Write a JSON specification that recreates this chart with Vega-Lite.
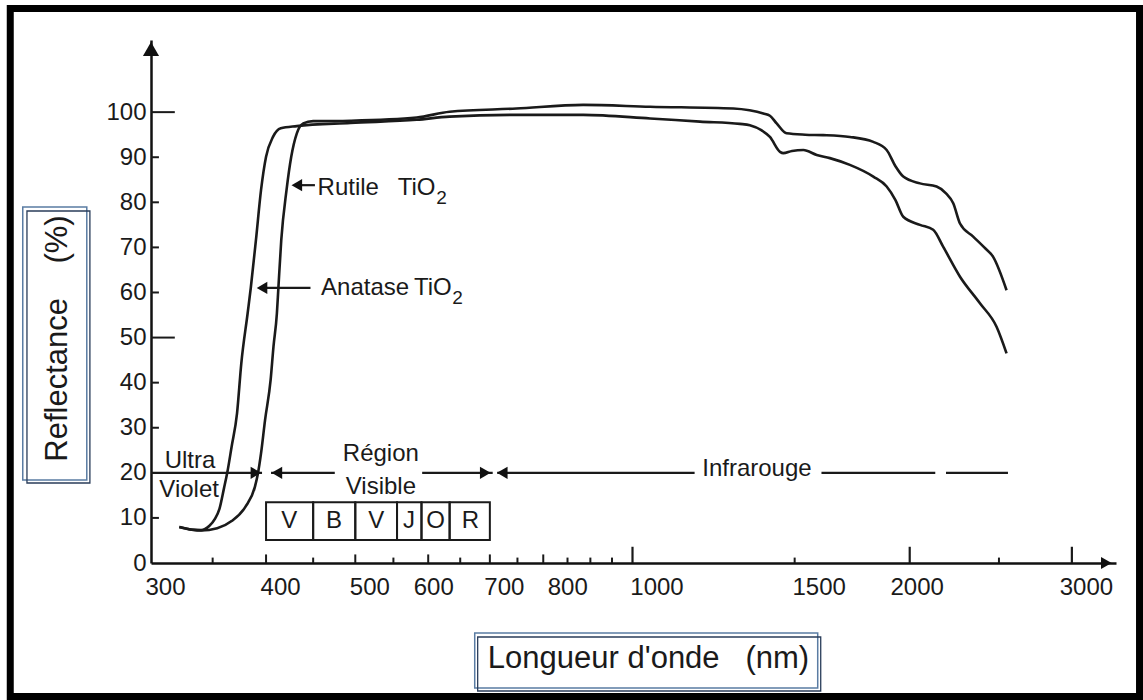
{
  "$schema": "https://vega.github.io/schema/vega-lite/v6.json",
  "width": 965,
  "height": 523,
  "autosize": {"type": "none"},
  "padding": {"left": 151, "top": 40, "right": 27, "bottom": 137},
  "background": "white",
  "config": {
    "view": {"stroke": null},
    "font": "Liberation Sans",
    "text": {"font": "Liberation Sans", "color": "#1a1a1a"}
  },
  "layer": [
    {
      "data": {"values": [
        {"wl": 322, "r": 8.0, "s": "Anatase"},
        {"wl": 332, "r": 7.4, "s": "Anatase"},
        {"wl": 340, "r": 7.3, "s": "Anatase"},
        {"wl": 347, "r": 8.2, "s": "Anatase"},
        {"wl": 352, "r": 9.8, "s": "Anatase"},
        {"wl": 356, "r": 12.0, "s": "Anatase"},
        {"wl": 360, "r": 16.5, "s": "Anatase"},
        {"wl": 363, "r": 20.0, "s": "Anatase"},
        {"wl": 367, "r": 25.8, "s": "Anatase"},
        {"wl": 372, "r": 33.2, "s": "Anatase"},
        {"wl": 376, "r": 44.3, "s": "Anatase"},
        {"wl": 382, "r": 55.4, "s": "Anatase"},
        {"wl": 385, "r": 61.0, "s": "Anatase"},
        {"wl": 390, "r": 71.6, "s": "Anatase"},
        {"wl": 395, "r": 82.7, "s": "Anatase"},
        {"wl": 400, "r": 90.1, "s": "Anatase"},
        {"wl": 407, "r": 94.5, "s": "Anatase"},
        {"wl": 415, "r": 96.4, "s": "Anatase"},
        {"wl": 432, "r": 96.9, "s": "Anatase"},
        {"wl": 494, "r": 97.6, "s": "Anatase"},
        {"wl": 583, "r": 98.3, "s": "Anatase"},
        {"wl": 633, "r": 99.0, "s": "Anatase"},
        {"wl": 748, "r": 99.4, "s": "Anatase"},
        {"wl": 884, "r": 99.4, "s": "Anatase"},
        {"wl": 1045, "r": 98.6, "s": "Anatase"},
        {"wl": 1184, "r": 97.9, "s": "Anatase"},
        {"wl": 1308, "r": 97.4, "s": "Anatase"},
        {"wl": 1341, "r": 97.1, "s": "Anatase"},
        {"wl": 1380, "r": 96.0, "s": "Anatase"},
        {"wl": 1410, "r": 94.5, "s": "Anatase"},
        {"wl": 1446, "r": 91.2, "s": "Anatase"},
        {"wl": 1458, "r": 90.9, "s": "Anatase"},
        {"wl": 1490, "r": 91.4, "s": "Anatase"},
        {"wl": 1533, "r": 91.6, "s": "Anatase"},
        {"wl": 1585, "r": 90.5, "s": "Anatase"},
        {"wl": 1638, "r": 89.8, "s": "Anatase"},
        {"wl": 1722, "r": 88.3, "s": "Anatase"},
        {"wl": 1826, "r": 85.7, "s": "Anatase"},
        {"wl": 1888, "r": 83.5, "s": "Anatase"},
        {"wl": 1930, "r": 80.5, "s": "Anatase"},
        {"wl": 1968, "r": 76.8, "s": "Anatase"},
        {"wl": 2052, "r": 75.0, "s": "Anatase"},
        {"wl": 2121, "r": 73.9, "s": "Anatase"},
        {"wl": 2175, "r": 70.1, "s": "Anatase"},
        {"wl": 2268, "r": 63.5, "s": "Anatase"},
        {"wl": 2384, "r": 57.6, "s": "Anatase"},
        {"wl": 2485, "r": 52.4, "s": "Anatase"},
        {"wl": 2548, "r": 46.5, "s": "Anatase"},
        {"wl": 322, "r": 8.0, "s": "Rutile"},
        {"wl": 340, "r": 7.2, "s": "Rutile"},
        {"wl": 354, "r": 7.7, "s": "Rutile"},
        {"wl": 367, "r": 9.3, "s": "Rutile"},
        {"wl": 380, "r": 12.5, "s": "Rutile"},
        {"wl": 389, "r": 16.9, "s": "Rutile"},
        {"wl": 392, "r": 19.9, "s": "Rutile"},
        {"wl": 395, "r": 24.3, "s": "Rutile"},
        {"wl": 399, "r": 31.7, "s": "Rutile"},
        {"wl": 404.6, "r": 40.6, "s": "Rutile"},
        {"wl": 407.5, "r": 48.0, "s": "Rutile"},
        {"wl": 411, "r": 55.4, "s": "Rutile"},
        {"wl": 412.5, "r": 60.9, "s": "Rutile"},
        {"wl": 415.5, "r": 71.6, "s": "Rutile"},
        {"wl": 421, "r": 82.7, "s": "Rutile"},
        {"wl": 426, "r": 90.1, "s": "Rutile"},
        {"wl": 432, "r": 95.3, "s": "Rutile"},
        {"wl": 439, "r": 97.5, "s": "Rutile"},
        {"wl": 450, "r": 98.0, "s": "Rutile"},
        {"wl": 494, "r": 98.1, "s": "Rutile"},
        {"wl": 583, "r": 98.8, "s": "Rutile"},
        {"wl": 633, "r": 100.1, "s": "Rutile"},
        {"wl": 748, "r": 100.8, "s": "Rutile"},
        {"wl": 884, "r": 101.6, "s": "Rutile"},
        {"wl": 1045, "r": 101.2, "s": "Rutile"},
        {"wl": 1287, "r": 100.8, "s": "Rutile"},
        {"wl": 1340, "r": 100.4, "s": "Rutile"},
        {"wl": 1387, "r": 99.7, "s": "Rutile"},
        {"wl": 1410, "r": 99.2, "s": "Rutile"},
        {"wl": 1434, "r": 97.5, "s": "Rutile"},
        {"wl": 1470, "r": 95.3, "s": "Rutile"},
        {"wl": 1540, "r": 95.0, "s": "Rutile"},
        {"wl": 1611, "r": 94.9, "s": "Rutile"},
        {"wl": 1722, "r": 94.5, "s": "Rutile"},
        {"wl": 1826, "r": 93.4, "s": "Rutile"},
        {"wl": 1888, "r": 91.6, "s": "Rutile"},
        {"wl": 1930, "r": 88.0, "s": "Rutile"},
        {"wl": 1968, "r": 85.7, "s": "Rutile"},
        {"wl": 2052, "r": 84.2, "s": "Rutile"},
        {"wl": 2139, "r": 83.5, "s": "Rutile"},
        {"wl": 2190, "r": 82.0, "s": "Rutile"},
        {"wl": 2230, "r": 79.8, "s": "Rutile"},
        {"wl": 2268, "r": 75.3, "s": "Rutile"},
        {"wl": 2344, "r": 72.4, "s": "Rutile"},
        {"wl": 2410, "r": 70.0, "s": "Rutile"},
        {"wl": 2464, "r": 67.9, "s": "Rutile"},
        {"wl": 2548, "r": 60.5, "s": "Rutile"}
      ]},
      "mark": {"type": "line", "interpolate": "monotone", "strokeWidth": 2.6, "color": "#1a1a1a"},
      "encoding": {
        "x": {
          "field": "wl", "type": "quantitative",
          "scale": {"type": "log", "domain": [300, 3350], "nice": false},
          "axis": {
            "title": "Longueur d'onde\u00a0\u00a0\u00a0(nm)",
            "values": [300, 400, 500, 600, 700, 800, 1000, 1500, 2000, 3000],
            "format": "d",
            "ticks": false, "tickSize": 0, "grid": false,
            "domainColor": "#111111", "domainWidth": 2.5,
            "labelFont": "Liberation Sans", "labelFontSize": 24, "labelColor": "#1a1a1a",
            "labelPadding": 12,
            "labelOffset": {"condition": [
              {"test": "datum.value == 600", "value": 5},
              {"test": "datum.value == 2000", "value": 7},
              {"test": "datum.value >= 800 && datum.value <= 1500", "value": 24}
            ], "value": 14},
            "labelFlush": false, "labelOverlap": false,
            "titleFont": "Liberation Sans", "titleFontSize": 31, "titleFontWeight": "normal", "titleColor": "#1a1a1a",
            "titleX": 497, "titleY": 95, "titleBaseline": "middle", "titleAlign": "center"
          }
        },
        "y": {
          "field": "r", "type": "quantitative",
          "scale": {"domain": [0, 116], "nice": false, "zero": false},
          "axis": {
            "title": "Reflectance\u00a0\u00a0\u00a0\u00a0(%)",
            "values": [0, 10, 20, 30, 40, 50, 60, 70, 80, 90, 100],
            "ticks": false, "tickSize": 0, "grid": false,
            "domainColor": "#111111", "domainWidth": 2.5,
            "labelFont": "Liberation Sans", "labelFontSize": 24, "labelColor": "#1a1a1a",
            "labelPadding": 5,
            "titleFont": "Liberation Sans", "titleFontSize": 31, "titleFontWeight": "normal", "titleColor": "#1a1a1a",
            "titleX": -94, "titleY": 298, "titleBaseline": "middle", "titleAlign": "center", "titleAngle": -90
          }
        },
        "detail": {"field": "s", "type": "nominal"}
      }
    },
    {
      "data": {"values": [{}]},
      "mark": {"type": "rect", "fillOpacity": 0, "stroke": "#000000", "strokeWidth": 7},
      "encoding": {
        "x": {"datum": 211, "type": "quantitative", "scale": {"type": "log", "domain": [300, 3350], "nice": false}},
        "x2": {"datum": 3553},
        "y": {"datum": 123.0, "type": "quantitative", "scale": {"domain": [0, 116], "nice": false, "zero": false}},
        "y2": {"datum": -29.6}
      }
    },
    {
      "data": {"values": [{"box": "y"}]},
      "mark": {"type": "rect", "fillOpacity": 0, "stroke": "#5a7ca3", "strokeWidth": 1.5},
      "encoding": {
        "x": {"datum": 217.7, "type": "quantitative", "scale": {"type": "log", "domain": [300, 3350], "nice": false}},
        "x2": {"datum": 255.5},
        "y": {"datum": 78.95, "type": "quantitative", "scale": {"domain": [0, 116], "nice": false, "zero": false}},
        "y2": {"datum": 18.41}
      }
    },
    {
      "data": {"values": [{"box": "y"}]},
      "mark": {"type": "rect", "fillOpacity": 0, "stroke": "#2a3d5a", "strokeWidth": 1.3},
      "encoding": {
        "x": {"datum": 220, "type": "quantitative", "scale": {"type": "log", "domain": [300, 3350], "nice": false}},
        "x2": {"datum": 257.5},
        "y": {"datum": 78.07, "type": "quantitative", "scale": {"domain": [0, 116], "nice": false, "zero": false}},
        "y2": {"datum": 17.74}
      }
    },
    {
      "data": {"values": [{"box": "x"}]},
      "mark": {"type": "rect", "fillOpacity": 0, "stroke": "#5a7ca3", "strokeWidth": 1.5},
      "encoding": {
        "x": {"datum": 674, "type": "quantitative", "scale": {"type": "log", "domain": [300, 3350], "nice": false}},
        "x2": {"datum": 1589},
        "y": {"datum": -15.52, "type": "quantitative", "scale": {"domain": [0, 116], "nice": false, "zero": false}},
        "y2": {"datum": -27.72}
      }
    },
    {
      "data": {"values": [{"box": "x"}]},
      "mark": {"type": "rect", "fillOpacity": 0, "stroke": "#2a3d5a", "strokeWidth": 1.3},
      "encoding": {
        "x": {"datum": 679, "type": "quantitative", "scale": {"type": "log", "domain": [300, 3350], "nice": false}},
        "x2": {"datum": 1601},
        "y": {"datum": -16.41, "type": "quantitative", "scale": {"domain": [0, 116], "nice": false, "zero": false}},
        "y2": {"datum": -28.39}
      }
    },
    {
      "data": {"values": [{"wl": 350}, {"wl": 450}, {"wl": 550}, {"wl": 650}, {"wl": 750}, {"wl": 850}, {"wl": 900}, {"wl": 950}, {"wl": 1500}, {"wl": 2500}]},
      "mark": {"type": "rule", "strokeWidth": 2, "color": "#1a1a1a"},
      "encoding": {
        "x": {"field": "wl", "type": "quantitative", "scale": {"type": "log", "domain": [300, 3350], "nice": false}},
        "y": {"datum": 0, "type": "quantitative", "scale": {"domain": [0, 116], "nice": false, "zero": false}},
        "y2": {"datum": 1.2}
      }
    },
    {
      "data": {"values": [{"wl": 400}, {"wl": 500}, {"wl": 600}, {"wl": 700}, {"wl": 800}]},
      "mark": {"type": "rule", "strokeWidth": 2, "color": "#1a1a1a"},
      "encoding": {
        "x": {"field": "wl", "type": "quantitative", "scale": {"type": "log", "domain": [300, 3350], "nice": false}},
        "y": {"datum": 0, "type": "quantitative", "scale": {"domain": [0, 116], "nice": false, "zero": false}},
        "y2": {"datum": 1.9}
      }
    },
    {
      "data": {"values": [{"wl": 1000}, {"wl": 2000}, {"wl": 3000}]},
      "mark": {"type": "rule", "strokeWidth": 2.2, "color": "#1a1a1a"},
      "encoding": {
        "x": {"field": "wl", "type": "quantitative", "scale": {"type": "log", "domain": [300, 3350], "nice": false}},
        "y": {"datum": 0, "type": "quantitative", "scale": {"domain": [0, 116], "nice": false, "zero": false}},
        "y2": {"datum": 3.6}
      }
    },
    {
      "data": {"values": [{"r": 10}, {"r": 30}, {"r": 40}, {"r": 60}, {"r": 70}, {"r": 80}, {"r": 90}]},
      "mark": {"type": "rule", "strokeWidth": 2, "color": "#1a1a1a"},
      "encoding": {
        "y": {"field": "r", "type": "quantitative", "scale": {"domain": [0, 116], "nice": false, "zero": false}},
        "x": {"datum": 300, "type": "quantitative", "scale": {"type": "log", "domain": [300, 3350], "nice": false}},
        "x2": {"datum": 306}
      }
    },
    {
      "data": {"values": [{"r": 50}, {"r": 100}]},
      "mark": {"type": "rule", "strokeWidth": 2, "color": "#1a1a1a"},
      "encoding": {
        "y": {"field": "r", "type": "quantitative", "scale": {"domain": [0, 116], "nice": false, "zero": false}},
        "x": {"datum": 300, "type": "quantitative", "scale": {"type": "log", "domain": [300, 3350], "nice": false}},
        "x2": {"datum": 318.4}
      }
    },
    {
      "data": {"values": [
        {"wl": 300, "wl2": 396},
        {"wl": 405, "wl2": 475},
        {"wl": 591, "wl2": 705},
        {"wl": 713, "wl2": 1168},
        {"wl": 1604, "wl2": 2132},
        {"wl": 2190, "wl2": 2557}
      ]},
      "mark": {"type": "rule", "strokeWidth": 2.2, "color": "#1a1a1a"},
      "encoding": {
        "x": {"field": "wl", "type": "quantitative", "scale": {"type": "log", "domain": [300, 3350], "nice": false}},
        "x2": {"field": "wl2"},
        "y": {"datum": 20, "type": "quantitative", "scale": {"domain": [0, 116], "nice": false, "zero": false}}
      }
    },
    {
      "data": {"values": [
        {"wl": 432, "wl2": 452, "r": 83.8},
        {"wl": 396, "wl2": 447, "r": 61.0}
      ]},
      "mark": {"type": "rule", "strokeWidth": 2.2, "color": "#1a1a1a"},
      "encoding": {
        "x": {"field": "wl", "type": "quantitative", "scale": {"type": "log", "domain": [300, 3350], "nice": false}},
        "x2": {"field": "wl2"},
        "y": {"field": "r", "type": "quantitative", "scale": {"domain": [0, 116], "nice": false, "zero": false}}
      }
    },
    {
      "data": {"values": [{"wl": 390, "r": 20}, {"wl": 692, "r": 20}, {"wl": 3270, "r": 0}]},
      "mark": {"type": "point", "shape": "triangle-right", "filled": true, "size": 150, "color": "#111111", "opacity": 1},
      "encoding": {
        "x": {"field": "wl", "type": "quantitative", "scale": {"type": "log", "domain": [300, 3350], "nice": false}},
        "y": {"field": "r", "type": "quantitative", "scale": {"domain": [0, 116], "nice": false, "zero": false}}
      }
    },
    {
      "data": {"values": [{"wl": 411, "r": 20}, {"wl": 722, "r": 20}, {"wl": 432, "r": 83.8}, {"wl": 396, "r": 61.0}]},
      "mark": {"type": "point", "shape": "triangle-left", "filled": true, "size": 150, "color": "#111111", "opacity": 1},
      "encoding": {
        "x": {"field": "wl", "type": "quantitative", "scale": {"type": "log", "domain": [300, 3350], "nice": false}},
        "y": {"field": "r", "type": "quantitative", "scale": {"domain": [0, 116], "nice": false, "zero": false}}
      }
    },
    {
      "data": {"values": [{"wl": 300, "r": 114}]},
      "mark": {"type": "point", "shape": "triangle-up", "filled": true, "size": 260, "color": "#111111", "opacity": 1},
      "encoding": {
        "x": {"field": "wl", "type": "quantitative", "scale": {"type": "log", "domain": [300, 3350], "nice": false}},
        "y": {"field": "r", "type": "quantitative", "scale": {"domain": [0, 116], "nice": false, "zero": false}}
      }
    },
    {
      "data": {"values": [
        {"wl": 400, "wl2": 450}, {"wl": 450, "wl2": 500}, {"wl": 500, "wl2": 555},
        {"wl": 555, "wl2": 590}, {"wl": 590, "wl2": 633}, {"wl": 633, "wl2": 700}
      ]},
      "mark": {"type": "rect", "fillOpacity": 0, "stroke": "#1a1a1a", "strokeWidth": 2},
      "encoding": {
        "x": {"field": "wl", "type": "quantitative", "scale": {"type": "log", "domain": [300, 3350], "nice": false}},
        "x2": {"field": "wl2"},
        "y": {"datum": 5.1, "type": "quantitative", "scale": {"domain": [0, 116], "nice": false, "zero": false}},
        "y2": {"datum": 13.5}
      }
    },
    {
      "data": {"values": [
        {"wl": 330.7, "r": 22.6, "t": "Ultra"},
        {"wl": 330, "r": 16.2, "t": "Violet"},
        {"wl": 533, "r": 24.2, "t": "Région"},
        {"wl": 533, "r": 16.9, "t": "Visible"},
        {"wl": 1365, "r": 20.9, "t": "Infrarouge"},
        {"wl": 424, "r": 9.3, "t": "V"},
        {"wl": 474, "r": 9.3, "t": "B"},
        {"wl": 527, "r": 9.3, "t": "V"},
        {"wl": 572, "r": 9.3, "t": "J"},
        {"wl": 611, "r": 9.3, "t": "O"},
        {"wl": 667, "r": 9.3, "t": "R"}
      ]},
      "mark": {"type": "text", "fontSize": 24, "align": "center", "baseline": "middle", "font": "Liberation Sans", "color": "#1a1a1a"},
      "encoding": {
        "x": {"field": "wl", "type": "quantitative", "scale": {"type": "log", "domain": [300, 3350], "nice": false}},
        "y": {"field": "r", "type": "quantitative", "scale": {"domain": [0, 116], "nice": false, "zero": false}},
        "text": {"field": "t"}
      }
    },
    {
      "data": {"values": [
        {"wl": 455, "r": 83.2, "t": "Rutile"},
        {"wl": 556, "r": 83.2, "t": "TiO"},
        {"wl": 459, "r": 61.0, "t": "Anatase"},
        {"wl": 579, "r": 61.0, "t": "TiO"}
      ]},
      "mark": {"type": "text", "fontSize": 24, "align": "left", "baseline": "middle", "font": "Liberation Sans", "color": "#1a1a1a"},
      "encoding": {
        "x": {"field": "wl", "type": "quantitative", "scale": {"type": "log", "domain": [300, 3350], "nice": false}},
        "y": {"field": "r", "type": "quantitative", "scale": {"domain": [0, 116], "nice": false, "zero": false}},
        "text": {"field": "t"}
      }
    },
    {
      "data": {"values": [
        {"wl": 612, "r": 81.0, "t": "2"},
        {"wl": 637, "r": 58.8, "t": "2"}
      ]},
      "mark": {"type": "text", "fontSize": 19, "align": "left", "baseline": "middle", "font": "Liberation Sans", "color": "#1a1a1a"},
      "encoding": {
        "x": {"field": "wl", "type": "quantitative", "scale": {"type": "log", "domain": [300, 3350], "nice": false}},
        "y": {"field": "r", "type": "quantitative", "scale": {"domain": [0, 116], "nice": false, "zero": false}},
        "text": {"field": "t"}
      }
    }
  ]
}
